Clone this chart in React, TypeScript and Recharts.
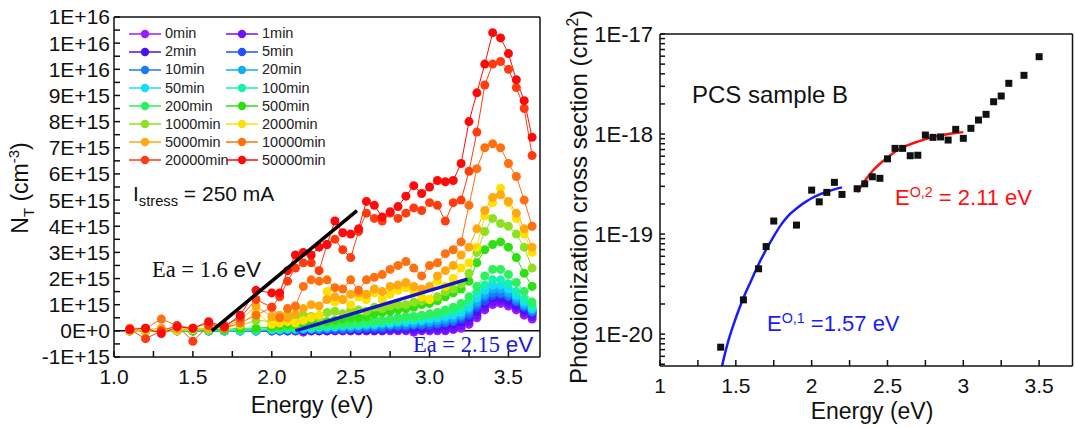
import React from 'react';
import { ComposedChart, Line, Scatter, XAxis, YAxis, ReferenceLine } from 'recharts';

const SANS = '"Liberation Sans", Arial, Helvetica, sans-serif';
const SERIF = '"Liberation Serif", "Times New Roman", serif';

// left panel: N_T spectra, values in units of 1E+15 cm^-3
const ENERGY = [
  1.1, 1.2, 1.3, 1.4, 1.5, 1.6, 1.7, 1.8, 1.9, 2.0,
  2.05, 2.1, 2.15, 2.2, 2.25, 2.3, 2.35, 2.4, 2.45, 2.5,
  2.55, 2.6, 2.65, 2.7, 2.75, 2.8, 2.85, 2.9, 2.95, 3.0,
  3.05, 3.1, 3.15, 3.2, 3.25, 3.3, 3.35, 3.4, 3.45, 3.5,
  3.55, 3.6, 3.65,
];

const SERIES_NAMES = [
  '0min', '1min', '2min', '5min', '10min', '20min', '50min', '100min',
  '200min', '500min', '1000min', '2000min', '5000min', '10000min', '20000min', '50000min',
];

const SERIES_COLORS = [
  '#9b1dff', '#6f10ff', '#4a12f0', '#2050ff', '#1a7cf8', '#14acf5', '#15dcff', '#18f0b0',
  '#2ef05a', '#2ee010', '#8fe020', '#ffe000', '#ffa810', '#ff7010', '#ff3c10', '#ff0a0a',
];

const NT_0MIN = [
  0, 0, 0, 0, 0, 0, 0, 0, 0, 0,
  0, 0, 0, -0.05, 0, 0, 0, 0, 0, 0,
  0, 0, 0, 0, 0, 0, 0, -0.05, 0, 0,
  0, 0, 0.05, 0.1, 0.25, 0.5, 0.8, 1.0, 1.05, 0.95,
  0.8, 0.6, 0.45,
];
const NT_1MIN = [
  0, 0, 0, 0, 0, 0, 0, 0, 0, 0,
  0, 0, 0, 0, 0, 0, 0, 0, 0, 0,
  0, 0, 0, 0, 0.05, 0.05, 0.05, 0, 0.05, 0.05,
  0.05, 0.05, 0.1, 0.2, 0.35, 0.6, 0.9, 1.1, 1.15, 1.05,
  0.9, 0.7, 0.55,
];
const NT_2MIN = [
  0, 0, 0, 0, 0, 0, 0, 0, 0, 0,
  0, 0, 0, 0, 0, 0, 0, 0.05, 0.05, 0.05,
  0.05, 0.05, 0.05, 0.05, 0.1, 0.1, 0.1, 0.1, 0.1, 0.15,
  0.15, 0.2, 0.25, 0.35, 0.5, 0.75, 1.05, 1.25, 1.25, 1.15,
  1.0, 0.8, 0.65,
];
const NT_5MIN = [
  0, 0, 0, 0, 0, 0, 0, 0, 0, 0,
  0, 0, 0, 0.05, 0.05, 0.05, 0.05, 0.05, 0.05, 0.1,
  0.1, 0.1, 0.1, 0.1, 0.15, 0.15, 0.15, 0.2, 0.2, 0.2,
  0.25, 0.3, 0.35, 0.45, 0.6, 0.9, 1.15, 1.35, 1.4, 1.3,
  1.1, 0.9, 0.7,
];
const NT_10MIN = [
  0, 0, 0, 0, 0, 0, 0, 0, 0, 0,
  0, 0.05, 0.05, 0.05, 0.05, 0.05, 0.1, 0.1, 0.1, 0.1,
  0.1, 0.15, 0.15, 0.15, 0.2, 0.2, 0.2, 0.25, 0.25, 0.3,
  0.3, 0.35, 0.4, 0.55, 0.7, 1.0, 1.3, 1.45, 1.45, 1.35,
  1.15, 0.95, 0.75,
];
const NT_20MIN = [
  0, 0, 0, 0, 0, 0, 0, 0, 0, 0.05,
  0.05, 0.05, 0.05, 0.1, 0.1, 0.1, 0.1, 0.15, 0.15, 0.15,
  0.2, 0.2, 0.2, 0.25, 0.25, 0.3, 0.3, 0.3, 0.35, 0.35,
  0.4, 0.45, 0.5, 0.6, 0.8, 1.1, 1.4, 1.6, 1.6, 1.45,
  1.25, 1.0, 0.8,
];
const NT_50MIN = [
  0, 0, 0, 0, 0, 0, 0, 0, 0, 0.05,
  0.05, 0.1, 0.1, 0.1, 0.1, 0.15, 0.15, 0.15, 0.2, 0.2,
  0.2, 0.25, 0.25, 0.3, 0.3, 0.35, 0.35, 0.4, 0.4, 0.45,
  0.5, 0.55, 0.6, 0.7, 0.9, 1.25, 1.55, 1.75, 1.75, 1.6,
  1.35, 1.1, 0.85,
];
const NT_100MIN = [
  0, 0, 0, 0, 0, 0, 0, 0, 0.05, 0.05,
  0.1, 0.1, 0.1, 0.15, 0.15, 0.15, 0.2, 0.2, 0.2, 0.25,
  0.25, 0.3, 0.3, 0.35, 0.35, 0.4, 0.45, 0.45, 0.5, 0.55,
  0.6, 0.65, 0.75, 0.85, 1.1, 1.45, 1.75, 1.95, 1.95, 1.8,
  1.5, 1.2, 0.95,
];
const NT_200MIN = [
  0, 0, 0, 0, 0, 0, 0, 0.05, 0.05, 0.1,
  0.1, 0.15, 0.15, 0.2, 0.2, 0.2, 0.25, 0.25, 0.3, 0.3,
  0.35, 0.35, 0.4, 0.4, 0.45, 0.5, 0.55, 0.55, 0.6, 0.65,
  0.7, 0.8, 0.9, 1.05, 1.3, 1.7, 2.1, 2.35, 2.35, 2.15,
  1.85, 1.5, 1.1,
];
const NT_500MIN = [
  0, 0, 0, 0, 0, 0.05, 0.05, 0.1, 0.1, 0.15,
  0.2, 0.25, 0.25, 0.3, 0.3, 0.35, 0.35, 0.4, 0.45, 0.5,
  0.5, 0.55, 0.65, 0.7, 0.75, 0.8, 0.85, 0.9, 1.0, 1.05,
  1.15, 1.3, 1.45, 1.6, 1.9, 2.6, 3.1, 3.3, 3.4, 3.2,
  2.8, 2.2, 1.7,
];
const NT_1000MIN = [
  0, 0, 0, 0.05, 0.05, 0.05, 0.2, 0.2, 0.4, 0.35,
  0.55, 0.6, 0.55, 0.6, 0.55, 0.5, 0.7, 0.75, 0.65, 0.8,
  0.8, 0.75, 0.9, 0.85, 0.95, 1.0, 1.0, 1.1, 1.15, 1.2,
  1.3, 1.5, 1.6, 1.8, 2.2, 3.0, 3.8, 4.3, 4.1, 4.0,
  3.7, 3.2, 2.4,
];
const NT_2000MIN = [
  0, 0, 0, 0, 0.05, 0.1, 0.1, 0.25, 0.7, 0.25,
  0.3, 0.35, 0.3, 0.4, 0.5, 0.6, 1.5, 1.1, 1.2, 1.0,
  1.3, 1.2, 1.45, 1.2, 1.4, 1.55, 1.65, 1.5, 1.3, 1.2,
  1.9, 1.7, 2.0, 2.4, 2.6, 3.2, 4.4, 4.9, 5.45, 4.9,
  4.3, 3.7, 3.0,
];
const NT_5000MIN = [
  0, 0.05, 0.1, 0.05, 0.1, 0.1, 0.15, 0.4, 0.95, 0.55,
  0.6, 0.5, 0.65, 0.85, 1.0, 0.95, 1.2, 1.3, 1.2, 1.4,
  1.45, 1.4, 1.6, 1.5, 1.7, 1.75, 1.85, 1.7, 1.6, 1.7,
  2.1, 2.3, 2.5, 2.9, 3.2, 3.9, 4.6, 5.1, 5.2, 4.95,
  4.5, 3.9, 3.2,
];
const NT_10000MIN = [
  0.1, 0.1, 0.45, 0.2, 0.1, 0.3, 0.1, 0.3, 0.6, 0.9,
  0.5, 0.85, 0.95, 1.7, 1.95, 1.9, 1.95, 1.65, 1.6, 1.95,
  1.55, 1.95, 2.05, 2.15, 2.35, 2.5, 2.65, 2.4, 2.1, 2.5,
  2.6, 2.95, 3.1, 3.4, 4.8, 6.2, 7.0, 7.15, 7.0, 6.4,
  5.9, 5.0, 4.0,
];
const NT_20000MIN = [
  0.05, -0.3, 0.0, 0.2, -0.4, 0.2, 0.2, 0.5, 1.2, 0.9,
  1.3, 1.9, 2.4, 2.6, 2.6, 2.3, 3.3, 3.5, 3.1, 2.8,
  3.8, 4.5, 4.3, 4.2, 4.5, 4.3, 4.5, 4.7, 4.6, 4.9,
  4.8, 4.2, 4.9, 5.0, 6.1, 7.6, 9.4, 10.2, 10.3, 10.0,
  9.3, 8.5, 6.7,
];
const NT_50000MIN = [
  0.05, 0.1, -0.1, 0.15, 0.1, 0.35, 0.15, 0.6, 1.55, 1.45,
  1.45, 2.3, 2.9, 3.0, 2.9, 3.2, 3.3, 4.2, 3.75, 3.7,
  3.9, 4.95, 4.8, 4.35, 4.55, 4.75, 5.15, 5.55, 5.25, 5.5,
  5.75, 5.7, 5.75, 6.4, 8.0, 9.1, 10.2, 11.4, 11.2, 10.6,
  9.6, 8.8, 7.4,
];

const NT_SERIES = [
  NT_0MIN, NT_1MIN, NT_2MIN, NT_5MIN, NT_10MIN, NT_20MIN, NT_50MIN, NT_100MIN,
  NT_200MIN, NT_500MIN, NT_1000MIN, NT_2000MIN, NT_5000MIN, NT_10000MIN, NT_20000MIN, NT_50000MIN,
];

// linear onset fits drawn on the left panel
const EA1_FIT_E = [1.62, 2.54];
const EA1_FIT_V = [0, 4.6];
const EA2_FIT_E = [2.15, 3.24];
const EA2_FIT_V = [0, 1.98];

const NT_TICK_LABELS = [
  '-1E+15', '0E+0', '1E+15', '2E+15', '3E+15', '4E+15', '5E+15',
  '6E+15', '7E+15', '8E+15', '9E+15', '1E+16', '1E+16', '1E+16',
];

// right panel: photoionization cross section, values in units of 1E-21 cm^2
const PCS_ENERGY = [
  1.4, 1.55, 1.65, 1.7, 1.75, 1.9, 2.0, 2.05, 2.1, 2.15, 2.2,
  2.3, 2.35, 2.4, 2.45, 2.5, 2.55, 2.6, 2.65, 2.7, 2.75, 2.8, 2.85, 2.9, 2.95, 3.0,
  3.05, 3.1, 3.15, 3.2, 3.25, 3.3, 3.4, 3.5,
];
const PCS_VALUE = [
  7.4, 22, 45, 75, 135, 123, 275, 210, 261, 329, 249,
  284, 318, 374, 361, 565, 719, 719, 607, 614, 977, 926, 935, 871, 1114, 906,
  1140, 1380, 1574, 2104, 2399, 3214, 3864, 5929,
];

const FIT1_E = [1.4, 1.45, 1.5, 1.55, 1.6, 1.65, 1.7, 1.75, 1.8, 1.85, 1.9, 1.95, 2.0, 2.05, 2.1, 2.15, 2.2];
const FIT1_V = [4.2, 8.5, 14.5, 23, 34, 50, 70, 95, 125, 155, 180, 205, 228, 248, 265, 280, 293];
const FIT2_E = [2.3, 2.35, 2.4, 2.45, 2.5, 2.55, 2.6, 2.65, 2.7, 2.75, 2.8, 2.85, 2.9, 2.95, 3.0];
const FIT2_V = [262, 340, 425, 505, 580, 665, 735, 790, 840, 890, 935, 970, 1000, 1025, 1045];

const PCS_MAJOR = [10, 100, 1000, 10000];
const PCS_MAJOR_LABELS = ['1E-20', '1E-19', '1E-18', '1E-17'];

const QUARTER_TICKS = [1, 1.25, 1.5, 1.75, 2, 2.25, 2.5, 2.75, 3, 3.25, 3.5];
const NT_TICKS = Array.from({ length: 27 }, (_, i) => -1 + i * 0.5);
const PCS_TICKS = [5, 6, 7, 8, 9].concat(
  ...PCS_MAJOR.slice(0, 3).map((d) => [1, 2, 3, 4, 5, 6, 7, 8, 9].map((k) => k * d)),
  [10000],
);

const ntRows = ENERGY.map((e, i) => {
  const row: Record<string, number> = { e };
  NT_SERIES.forEach((s, k) => (row[`s${k}`] = s[i]));
  return row;
});
const ea1Rows = EA1_FIT_E.map((e, i) => ({ e, v: EA1_FIT_V[i] }));
const ea2Rows = EA2_FIT_E.map((e, i) => ({ e, v: EA2_FIT_V[i] }));
const pcsRows = PCS_ENERGY.map((e, i) => ({ e, s: PCS_VALUE[i] }));
const fit1Rows = FIT1_E.map((e, i) => ({ e, s: FIT1_V[i] }));
const fit2Rows = FIT2_E.map((e, i) => ({ e, s: FIT2_V[i] }));

const isHalf = (v: number) => Math.abs(v * 2 - Math.round(v * 2)) < 1e-6;
const fmtLeftX = (v: number) => (isHalf(v) ? v.toFixed(1) : '');
const fmtRightX = (v: number) => (isHalf(v) ? String(v) : '');
const fmtNt = (v: number) => (Number.isInteger(v) ? NT_TICK_LABELS[v + 1] : '');
const fmtPcs = (v: number) => {
  const idx = PCS_MAJOR.indexOf(v);
  return idx >= 0 ? PCS_MAJOR_LABELS[idx] : '';
};

const SquareDot = (props: any) => {
  const { cx, cy } = props;
  if (cx == null || cy == null) return null;
  return <rect x={cx - 3.5} y={cy - 3.5} width={7} height={7} fill='#111' />;
};

const abs = (left: number, top: number, size: number, color = '#111', family = SANS): React.CSSProperties => ({
  position: 'absolute',
  left,
  top,
  fontSize: size,
  color,
  fontFamily: family,
  lineHeight: 1,
  whiteSpace: 'nowrap',
});

const tickStyle = { fontSize: 21, fill: '#111', fontFamily: SANS };
const axisColor = '#111';

function NtLegend() {
  return (
    <>
      {SERIES_NAMES.map((name, i) => {
        const row = Math.floor(i / 2);
        const col = i % 2;
        const y = 33.5 + row * 18.1;
        const x = col === 0 ? 129 : 226;
        return (
          <div key={name} style={{ position: 'absolute', left: x, top: y - 7, height: 14, display: 'flex', alignItems: 'center' }}>
            <svg width={32} height={14}>
              <line x1={0} y1={7} x2={32} y2={7} stroke={SERIES_COLORS[i]} strokeWidth={1.5} />
              <circle cx={16} cy={7} r={4.2} fill={SERIES_COLORS[i]} />
            </svg>
            <span style={{ marginLeft: 4, fontSize: 14.5, color: '#222', fontFamily: SANS, lineHeight: 1 }}>{name}</span>
          </div>
        );
      })}
    </>
  );
}

export default function App() {
  return (
    <div
      style={{
        position: 'absolute',
        left: 0,
        top: 0,
        width: 1075,
        height: 428,
        background: '#fff',
        overflow: 'hidden',
        fontFamily: SANS,
      }}
    >
      <div style={{ position: 'absolute', left: 0, top: 0 }}>
        <ComposedChart width={545} height={428} data={ntRows} margin={{ top: 17, right: 5, bottom: 0, left: 0 }}>
          <XAxis
            dataKey='e'
            type='number'
            domain={[1, 3.7]}
            allowDataOverflow
            ticks={QUARTER_TICKS}
            interval={0}
            tickFormatter={fmtLeftX}
            tickSize={-6}
            tickMargin={18}
            height={71}
            stroke={axisColor}
            strokeWidth={1.5}
            tick={tickStyle}
          />
          <XAxis
            xAxisId='top'
            orientation='top'
            mirror
            dataKey='e'
            type='number'
            domain={[1, 3.7]}
            allowDataOverflow
            ticks={QUARTER_TICKS}
            interval={0}
            tick={false}
            tickSize={6}
            stroke={axisColor}
            strokeWidth={1.5}
          />
          <YAxis
            type='number'
            domain={[-1, 12]}
            allowDataOverflow
            ticks={NT_TICKS}
            interval={0}
            tickFormatter={fmtNt}
            tickSize={-6}
            tickMargin={10}
            width={114}
            stroke={axisColor}
            strokeWidth={1.5}
            tick={tickStyle}
          />
          <YAxis
            yAxisId='r'
            orientation='right'
            mirror
            type='number'
            domain={[-1, 12]}
            allowDataOverflow
            ticks={NT_TICKS}
            interval={0}
            tick={false}
            tickSize={6}
            stroke={axisColor}
            strokeWidth={1.5}
          />
          <ReferenceLine y={0} stroke='#111' strokeWidth={1.5} />
          {NT_SERIES.map((_, k) => (
            <Line
              key={SERIES_NAMES[k]}
              dataKey={`s${k}`}
              stroke={SERIES_COLORS[k]}
              strokeWidth={1}
              dot={{ r: 4.5, fill: SERIES_COLORS[k], stroke: SERIES_COLORS[k], strokeWidth: 0 }}
              activeDot={false}
              isAnimationActive={false}
            />
          ))}
          <ReferenceLine
            xAxisId='top'
            yAxisId='r'
            segment={ea1Rows.map((p) => ({ x: p.e, y: p.v }))}
            stroke='#000'
            strokeWidth={3.5}
            zIndex={2000}
          />
          <ReferenceLine
            xAxisId='top'
            yAxisId='r'
            segment={ea2Rows.map((p) => ({ x: p.e, y: p.v }))}
            stroke='#1515c8'
            strokeWidth={3.5}
            zIndex={2000}
          />
        </ComposedChart>
      </div>

      <div style={{ position: 'absolute', left: 545, top: 0 }}>
        <ComposedChart width={530} height={428} margin={{ top: 34, right: 2.5, bottom: 0, left: 0 }}>
          <XAxis
            dataKey='e'
            type='number'
            domain={[1, 3.72]}
            allowDataOverflow
            ticks={QUARTER_TICKS}
            interval={0}
            tickFormatter={fmtRightX}
            tickSize={-6}
            tickMargin={18}
            height={62}
            stroke={axisColor}
            strokeWidth={1.5}
            tick={tickStyle}
          />
          <XAxis
            xAxisId='top'
            orientation='top'
            mirror
            dataKey='e'
            type='number'
            domain={[1, 3.72]}
            allowDataOverflow
            ticks={QUARTER_TICKS}
            interval={0}
            tick={false}
            tickSize={6}
            stroke={axisColor}
            strokeWidth={1.5}
          />
          <YAxis
            dataKey='s'
            type='number'
            scale='log'
            domain={[4.8, 10000]}
            allowDataOverflow
            ticks={PCS_TICKS}
            interval={0}
            tickFormatter={fmtPcs}
            tickSize={-5}
            tickMargin={12}
            width={115}
            stroke={axisColor}
            strokeWidth={1.5}
            tick={{ ...tickStyle, fontSize: 22 }}
          />
          <YAxis
            yAxisId='r'
            orientation='right'
            mirror
            dataKey='s'
            type='number'
            scale='log'
            domain={[4.8, 10000]}
            allowDataOverflow
            ticks={PCS_TICKS}
            interval={0}
            tick={false}
            tickSize={4}
            stroke={axisColor}
            strokeWidth={1.5}
          />
          <Scatter data={pcsRows} dataKey='s' shape={SquareDot} isAnimationActive={false} />
          <Line
            data={fit1Rows}
            dataKey='s'
            type='monotone'
            stroke='#1a1aff'
            strokeWidth={2.5}
            dot={false}
            activeDot={false}
            isAnimationActive={false}
          />
          <Line
            data={fit2Rows}
            dataKey='s'
            xAxisId='top'
            yAxisId='r'
            type='monotone'
            stroke='#ff1010'
            strokeWidth={2.5}
            dot={false}
            activeDot={false}
            isAnimationActive={false}
          />
        </ComposedChart>
      </div>

      <NtLegend />

      {/* left panel texts */}
      <div style={{ ...abs(22, 188, 23), transform: 'translate(-50%, -50%) rotate(-90deg)' }}>
        N<sub style={{ fontSize: '0.65em' }}>T</sub> (cm<sup style={{ fontSize: '0.65em' }}>-3</sup>)
      </div>
      <div style={{ ...abs(312, 405, 23), transform: 'translate(-50%, -50%)' }}>Energy (eV)</div>
      <div style={abs(133, 183, 21)}>
        I<sub style={{ fontSize: '0.7em' }}>stress</sub> = 250 mA
      </div>
      <div style={abs(152, 259, 22.5, '#111', SERIF)}>
        Ea = 1.6 <span style={{ fontFamily: SANS }}>eV</span>
      </div>
      <div style={abs(413, 334, 22.5, '#1a1ad0', SERIF)}>
        Ea = 2.15 <span style={{ fontFamily: SANS }}>eV</span>
      </div>

      {/* right panel texts */}
      <div style={{ ...abs(578, 197, 24), transform: 'translate(-50%, -50%) rotate(-90deg)' }}>
        Photoionization cross section (cm<sup style={{ fontSize: '0.65em' }}>2</sup>)
      </div>
      <div style={{ ...abs(872, 411, 23), transform: 'translate(-50%, -50%)' }}>Energy (eV)</div>
      <div style={{ ...abs(692, 95, 24), transform: 'translateY(-50%)' }}>PCS sample B</div>
      <div style={{ ...abs(767, 323, 22, '#1a1aff'), transform: 'translateY(-50%)' }}>
        E<sup style={{ fontSize: '0.65em' }}>O,1</sup> =1.57 eV
      </div>
      <div style={{ ...abs(895, 197, 22, '#ff1010'), transform: 'translateY(-50%)' }}>
        E<sup style={{ fontSize: '0.65em' }}>O,2</sup> = 2.11 eV
      </div>
    </div>
  );
}
